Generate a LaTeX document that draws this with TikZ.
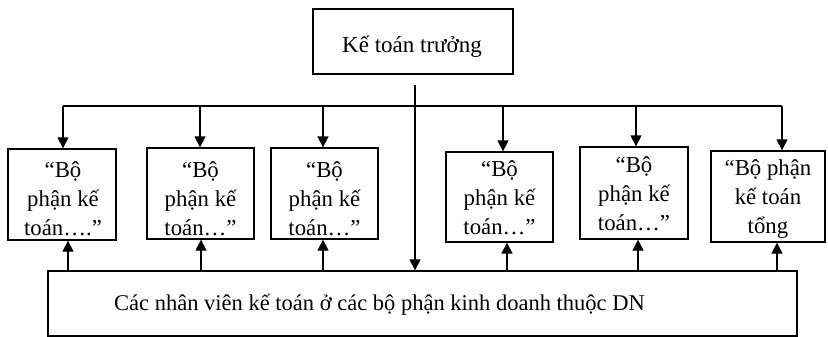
\documentclass[tikz,border=0pt]{standalone}
\usepackage{fontspec}
\setmainfont{Liberation Serif}
\usetikzlibrary{arrows.meta}
\begin{document}
\begin{tikzpicture}[x=1pt,y=-1pt,
  box/.style={draw,line width=1.3pt,inner sep=0pt},
  lbl/.style={inner sep=0pt,align=center,font=\fontsize{22.8}{29}\selectfont},
  big/.style={inner sep=0pt,font=\fontsize{23}{28}\selectfont},
  conn/.style={line width=1.3pt},
  arr/.style={line width=1.3pt,-{Triangle[length=11pt,width=11pt]}}]
\useasboundingbox (0,0) rectangle (828,337);
% boxes
\node[box,minimum width=200pt,minimum height=65pt] (top) at (413,41.5) {};
\node[box,minimum width=108pt,minimum height=91pt] (b1) at (62,194.5) {};
\node[box,minimum width=107pt,minimum height=91pt] (b2) at (200.5,193.5) {};
\node[box,minimum width=107pt,minimum height=91pt] (b3) at (324.5,193.5) {};
\node[box,minimum width=107pt,minimum height=90pt] (b4) at (499.5,197) {};
\node[box,minimum width=108pt,minimum height=92pt] (b5) at (634,193) {};
\node[box,minimum width=114pt,minimum height=91pt] (b6) at (768,196.5) {};
\node[box,minimum width=749pt,minimum height=65pt] (bot) at (422.5,303.5) {};
% texts
\node[big,anchor=base] (ttop) at (412,53) {Kế toán trưởng};
\node[lbl,anchor=north] (t1) at (63,161.5) {“Bộ\\phận kế\\toán….”};
\node[lbl,anchor=north] (t2) at (200.5,161.5) {“Bộ\\phận kế\\toán…”};
\node[lbl,anchor=north] (t3) at (324.5,161.5) {“Bộ\\phận kế\\toán…”};
\node[lbl,anchor=north] (t4) at (499.5,160.5) {“Bộ\\phận kế\\toán…”};
\node[lbl,anchor=north] (t5) at (634,156.5) {“Bộ\\phận kế\\toán…”};
\node[lbl,anchor=north] (t6) at (768,159.5) {“Bộ phận\\kế toán\\tổng};
\node[big,anchor=base west,font=\fontsize{22.5}{28}\selectfont] (tbot) at (114,310) {Các nhân viên kế toán ở các bộ phận kinh doanh thuộc DN};
% distribution line
\coordinate (hL) at (63,106);
\coordinate (hR) at (782,106);
\coordinate (d2) at (200,106);
\coordinate (d3) at (323,106);
\coordinate (d4) at (503,106);
\coordinate (d5) at (636,106);
\coordinate (c0) at (415,85);
\draw[conn] (hL) -- (hR);
\draw[arr] (hL) -- (hL |- b1.north);
\draw[arr] (d2) -- (d2 |- b2.north);
\draw[arr] (d3) -- (d3 |- b3.north);
\draw[arr] (d4) -- (d4 |- b4.north);
\draw[arr] (d5) -- (d5 |- b5.north);
\draw[arr] (hR) -- (hR |- b6.north);
\draw[arr] (c0) -- (c0 |- bot.north);
% upward arrows
\coordinate (u1) at (68,271);
\coordinate (u2) at (201,271);
\coordinate (u3) at (323,271);
\coordinate (u4) at (507,271);
\coordinate (u5) at (638,271);
\coordinate (u6) at (777,271);
\draw[arr] (u1 |- bot.north) -- (u1 |- b1.south);
\draw[arr] (u2 |- bot.north) -- (u2 |- b2.south);
\draw[arr] (u3 |- bot.north) -- (u3 |- b3.south);
\draw[arr] (u4 |- bot.north) -- (u4 |- b4.south);
\draw[arr] (u5 |- bot.north) -- (u5 |- b5.south);
\draw[arr] (u6 |- bot.north) -- (u6 |- b6.south);
\end{tikzpicture}
\end{document}
